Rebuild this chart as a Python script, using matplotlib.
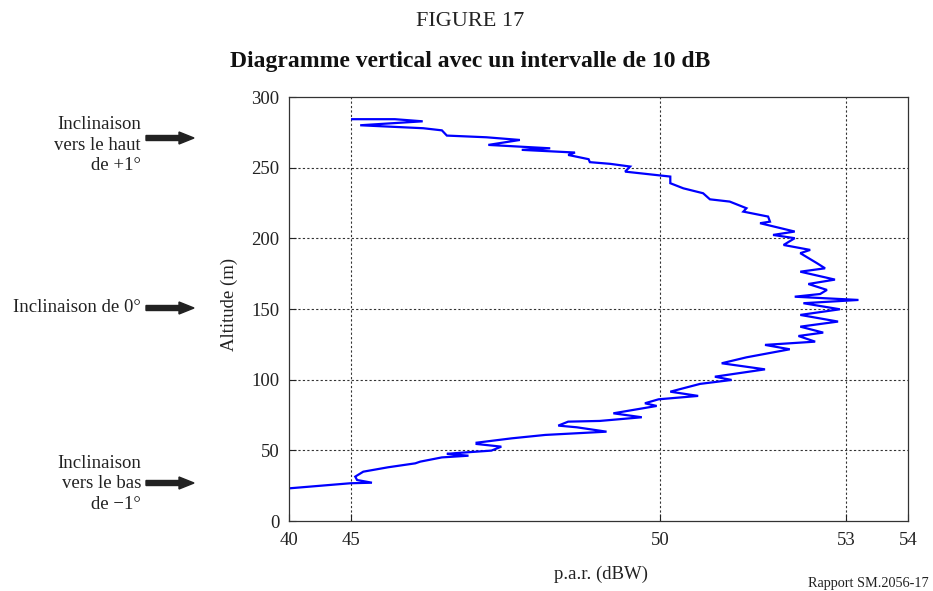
import matplotlib
matplotlib.use("Agg")
import matplotlib.pyplot as plt
from matplotlib.patches import FancyArrow

plt.rcParams['font.family'] = ['Liberation Serif', 'DejaVu Serif']

# Data: p.a.r. (dBW) vs altitude (m), read from bottom to top
par_dbw = [44.0, 44.99, 45.34, 45.10, 45.07, 45.20, 45.6, 46.04, 46.12, 46.47, 46.90,
           46.55, 46.75, 47.27, 47.43, 47.03, 47.03, 47.6, 48.14, 49.13, 48.65,
           48.35, 48.51, 49.02, 49.70, 49.24, 49.94, 49.75, 49.97, 50.61, 50.16,
           50.64, 51.15, 50.88, 51.69, 50.99, 51.39, 52.09, 51.69, 52.50, 52.23,
           52.63, 52.26, 52.87, 52.26, 52.90, 52.31, 53.20, 52.17, 52.58, 52.69,
           52.39, 52.82, 52.26, 52.66, 52.53, 52.26, 52.42, 51.99, 52.17, 51.82,
           52.17, 51.61, 51.77, 51.74, 51.34, 51.39, 51.12, 50.80, 50.69, 50.37,
           50.16, 50.16, 49.43, 49.51, 49.19, 48.86, 48.84, 48.51, 48.62, 47.76,
           48.22, 47.22, 47.73, 47.19, 46.55, 46.47, 46.17, 45.15, 46.16, 45.71,
           45.02]
altitude_m = [23.1, 26.7, 27.1, 29.0, 31.4, 34.9, 38.0, 40.8, 42.0, 45.0, 46.2,
              47.5, 48.2, 49.8, 52.6, 54.5, 55.4, 58.5, 60.9, 63.2, 66.3,
              67.5, 70.3, 70.8, 73.4, 76.2, 81.4, 83.3, 86.1, 88.5, 91.5,
              97.0, 99.8, 102.1, 107.3, 111.6, 115.8, 121.5, 124.6, 126.9, 130.9,
              133.3, 137.5, 141.1, 145.8, 149.8, 154.1, 156.4, 158.7, 160.6, 163.5,
              167.7, 170.8, 176.4, 178.8, 182.4, 189.5, 191.8, 195.3, 200.1, 202.4,
              204.8, 210.7, 211.8, 215.4, 218.9, 221.3, 226.0, 227.6, 231.9, 235.4,
              239.0, 243.7, 247.2, 250.8, 252.7, 253.9, 256.0, 259.0, 260.7, 262.6,
              263.7, 266.1, 269.6, 271.5, 272.7, 276.4, 277.9, 280.0, 282.8, 284.3,
              284.3]

x_tick_pos = [44, 45, 50, 53, 54]
x_tick_labels = ["40", "45", "50", "53", "54"]
y_ticks = [0, 50, 100, 150, 200, 250, 300]

W, H = 933, 591
fig = plt.figure(figsize=(W / 100, H / 100), dpi=100)
ax = fig.add_axes([289 / W, 1 - 521 / H, (908 - 289) / W, (521 - 97) / H])

ax.plot(par_dbw, altitude_m, color='#0000ff', lw=1.6, solid_joinstyle='miter')

ax.set_xlim(44, 54)
ax.set_ylim(0, 300)
ax.set_xticks(x_tick_pos)
ax.set_xticklabels(x_tick_labels)
ax.set_yticks(y_ticks)
ax.tick_params(direction='in', length=5, width=0.8, labelsize=13.5, colors='#222222', pad=7)
ax.tick_params(axis='x', pad=8)
for s in ax.spines.values():
    s.set_linewidth(0.9)
    s.set_color('#333333')

# grid lines (dotted) at selected positions
for xv in [45, 50, 53]:
    ax.axvline(xv, color='#333333', lw=0.8, ls=(0, (2, 2)), zorder=0)
for yv in [50, 100, 150, 200, 250]:
    ax.axhline(yv, color='#333333', lw=0.8, ls=(0, (2, 2)), zorder=0)

ax.set_xlabel("p.a.r. (dBW)", fontsize=13.5, color='#222222')
ax.set_ylabel("Altitude (m)", fontsize=13.5, color='#222222')
ax.xaxis.set_label_coords((601 - 289) / 619, (521 - 566) / 424)
ax.yaxis.set_label_coords((238 - 289) / 619, 0.51)

fig.text(470 / W, 1 - 21 / H, "FIGURE 17", ha='center', va='center', fontsize=16, color='#222222')
fig.text(470 / W, 1 - 61 / H, "Diagramme vertical avec un intervalle de 10 dB", ha='center',
         va='center', fontsize=17, fontweight='bold', color='#111111')
fig.text(808 / W, 1 - 583 / H, "Rapport SM.2056-17", ha='left', va='center', fontsize=10.3,
         color='#222222')

# left annotations
fig.text(141 / W, 1 - 145 / H, "Inclinaison\nvers le haut\nde +1°", ha='right', va='center',
         fontsize=13.5, color='#222222', linespacing=1.28)
fig.text(141 / W, 1 - 308 / H, "Inclinaison de 0°", ha='right', va='center',
         fontsize=13.5, color='#222222')
fig.text(141 / W, 1 - 484 / H, "Inclinaison\nvers le bas\nde \u22121°", ha='right', va='center',
         fontsize=13.5, color='#222222', linespacing=1.28)

for yp in [138, 308, 483]:
    fig.patches.append(FancyArrow(146 / W, 1 - yp / H, 48 / W, 0, width=5 / H,
                                  head_width=12 / H, head_length=15 / W,
                                  length_includes_head=True, color='#222222',
                                  transform=fig.transFigure, figure=fig))

fig.savefig("out.png", dpi=100)
